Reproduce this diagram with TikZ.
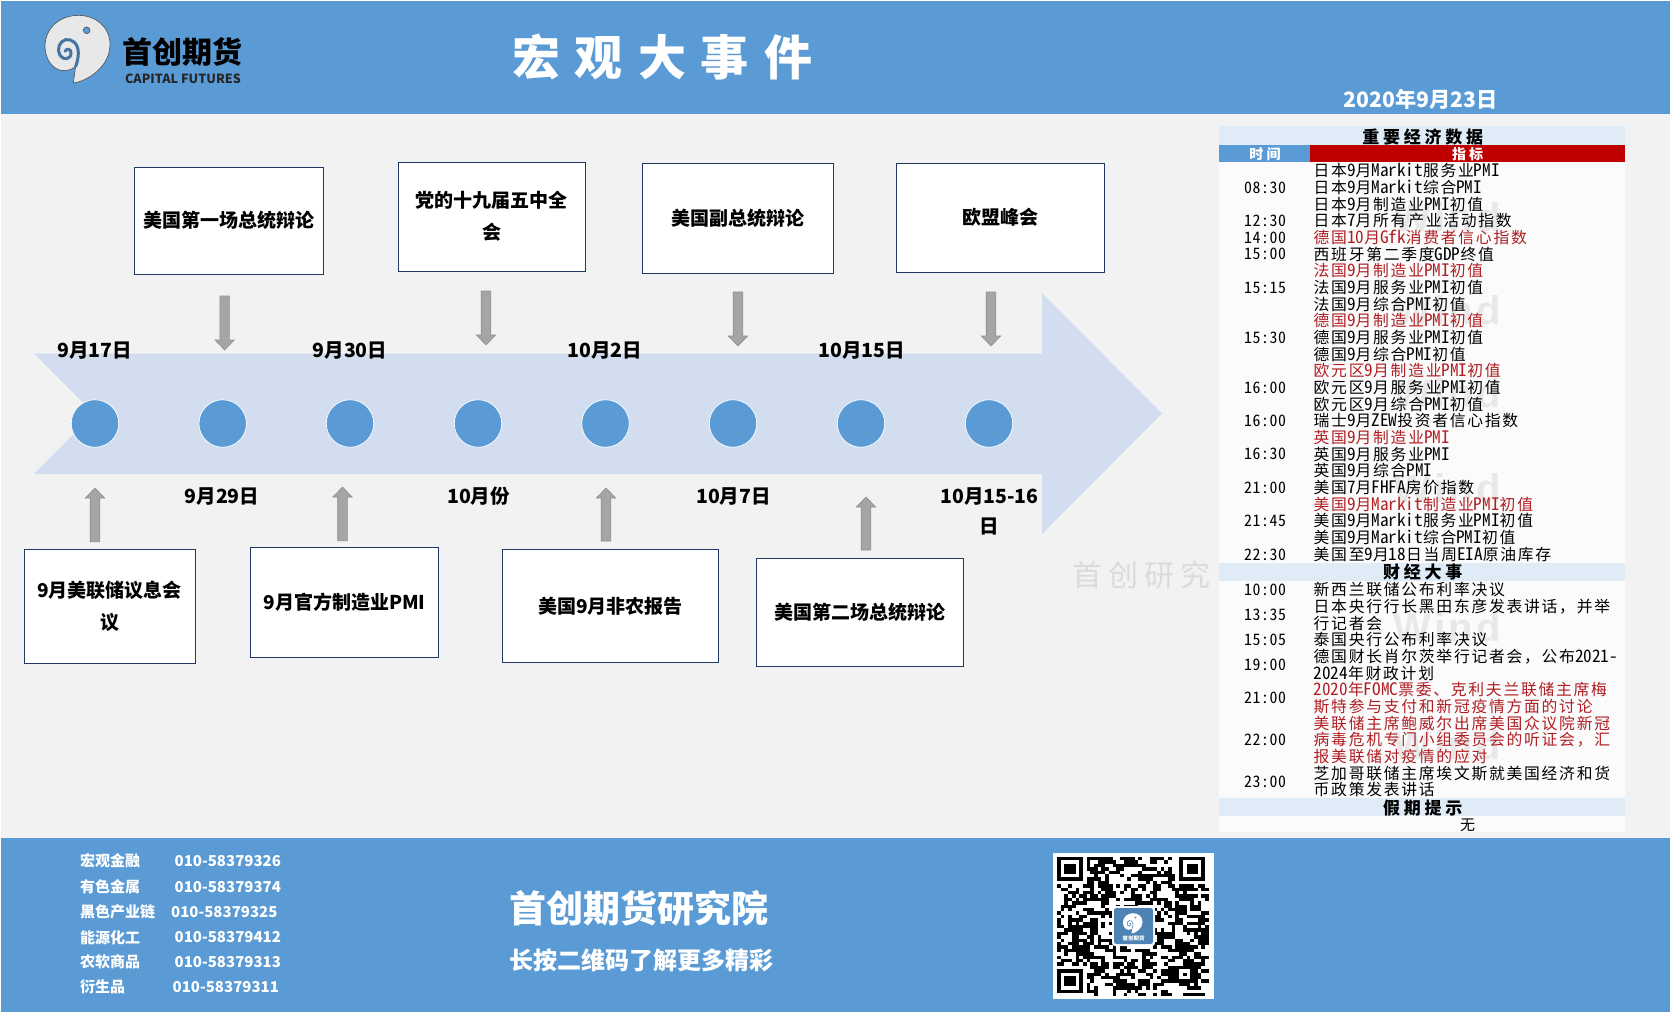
\documentclass[tikz,border=0pt]{standalone}
\usepackage{fontspec}
\usetikzlibrary{calc}
\setmainfont{Noto Sans CJK SC}
\newfontfamily\tblfont[LetterSpace=11]{Noto Sans Mono CJK SC}
\newfontfamily\ltnfont{Noto Sans Mono CJK SC}
\newfontfamily\timefont[LetterSpace=4]{Noto Sans Mono CJK SC}
\newfontfamily\secfont[LetterSpace=22]{Noto Sans CJK SC}
\newfontfamily\wmfont[LetterSpace=8]{Liberation Sans}
\newcommand\fsz[1]{\fontsize{#1}{#1}\selectfont}
\newcommand\lt[1]{{\ltnfont\fsz{17.2}#1}}
\definecolor{band}{HTML}{5B9BD5}
\definecolor{bodybg}{HTML}{F2F2F2}
\definecolor{flow}{HTML}{D2DEEF}
\definecolor{boxline}{HTML}{1F3864}
\definecolor{arrfill}{HTML}{A5A5A5}
\definecolor{arredge}{HTML}{8F8F8F}
\definecolor{secbar}{HTML}{DFEBF7}
\definecolor{rowbg}{HTML}{FBFBFB}
\definecolor{redhead}{HTML}{C00000}
\definecolor{redtext}{HTML}{B01E23}
\definecolor{wm}{HTML}{E8E8E8}
\tikzset{
  evtbox/.style={draw=boxline,line width=1pt,fill=white,align=center,inner sep=0pt,
    font=\fsz{19}\bfseries,execute at begin node={\setlength{\baselineskip}{32pt}}},
  datelab/.style={font=\fsz{19.5}\bfseries,text=black,inner sep=0pt,align=center,
    execute at begin node={\setlength{\baselineskip}{30pt}}},
  dot/.style={circle,fill=band,draw=white,line width=0.7pt,minimum size=47.5pt,inner sep=0pt},
  blockarr/.style={fill=arrfill,draw=arredge,line width=0.6pt,line join=miter},
  rowlab/.style={anchor=west,inner sep=0pt,text height=11.6pt,text depth=0pt,font=\tblfont\fsz{15.8}},
  timelab/.style={inner sep=0pt,font=\timefont\fsz{15.8}},
  seclab/.style={inner sep=0pt,font=\secfont\fsz{17}\bfseries},
  wmark/.style={inner sep=0pt,text=wm,font=\wmfont\fsz{40}\bfseries},
  foot/.style={anchor=west,inner sep=0pt,text=white,font=\fsz{15}\bfseries},
  phone/.style={anchor=west,inner sep=0pt,text=white,font=\fsz{15}\bfseries},
}
% vertical block arrow between two named coordinates; #3 = 1 points down, -1 points up
\newcommand\blockarrow[3]{%
  \draw[blockarr] ($(#1)+(-4.8,0)$) -- ($(#2)+(-4.8,-10*#3)$) -- ($(#2)+(-9.6,-10*#3)$) -- (#2)
    -- ($(#2)+(9.6,-10*#3)$) -- ($(#2)+(4.8,-10*#3)$) -- ($(#1)+(4.8,0)$) -- cycle;}
\newcommand\swirlbody{(115,225) .. controls (150,222) and (225,180) .. (225,110) .. controls (225,55) and (180,22) .. (130,22) .. controls (75,22) and (30,60) .. (30,115) .. controls (30,155) and (55,190) .. (90,188) .. controls (100,187) and (112,184) .. (122,175) -- cycle}
\newcommand\swirlline{(122,175) .. controls (126,165) and (130,150) .. (130,135) .. controls (130,105) and (110,92) .. (92,95) .. controls (72,100) and (65,125) .. (75,142) .. controls (85,158) and (108,155) .. (108,135) .. controls (108,122) and (95,120) .. (90,130)}
\begin{document}
\begin{tikzpicture}[x=1pt,y=-1pt]
\useasboundingbox (0,0) rectangle (1670,1012);
\fill[white] (0,0) rectangle (1670,1012);
\fill[bodybg] (1,114) rectangle (1670,838);
\fill[band] (1,1) rectangle (1670,114);
\fill[band] (1,837.5) rectangle (1670,1012);

% header logo
\begin{scope}[shift={(35,8)},x=0.3333pt,y=-0.3333pt]
  \fill[draw=black!65,line width=0.7pt,fill=black!9] \swirlbody;
  \draw[band!75!black,line width=3pt,line cap=round] \swirlline;
  \fill[band,draw=black!70,line width=0.6pt] (155,67) circle (10);
\end{scope}
\node[inner sep=0pt,font=\fsz{30}\bfseries,text=black] (brand) at (182,51.5) {首创期货};
\node[inner sep=0pt,font=\fsz{12.6}\bfseries,text=black!85] (brandlat) at (183,78.5) {CAPITAL FUTURES};
\node[inner sep=0pt,font=\fsz{48}\bfseries,text=white] (title) at (662,57) {宏\hspace{15pt}观\hspace{15pt}大\hspace{15pt}事\hspace{15pt}件};
\node[inner sep=0pt,font=\fsz{21.2}\bfseries,text=white] (today) at (1420.5,99) {2020年9月23日};

% timeline arrow
\fill[flow] (34,353.5) -- (1042,353.5) -- (1042,293) -- (1162,413.5) -- (1042,534) -- (1042,474) -- (34,474) -- (94,413.5) -- cycle;
\foreach \cx [count=\k] in {95,222.7,350,478,605.5,733,861,989}
  \node[dot] (d\k) at (\cx,423.5) {};

% event boxes
\node[evtbox,minimum width=189pt,minimum height=107pt] (t1) at (228.5,220.5) {美国第一场总统辩论};
\node[evtbox,minimum width=187pt,minimum height=109pt] (t2) at (491.5,216.5) {党的十九届五中全\\会};
\node[evtbox,minimum width=191pt,minimum height=110pt] (t3) at (738,218) {美国副总统辩论};
\node[evtbox,minimum width=208pt,minimum height=109pt] (t4) at (1000,217.5) {欧盟峰会};
\node[evtbox,minimum width=171pt,minimum height=114pt] (b1) at (109.5,606.5) {9月美联储议息会\\议};
\node[evtbox,minimum width=187.5pt,minimum height=110pt] (b2) at (344.5,602) {9月官方制造业PMI};
\node[evtbox,minimum width=216pt,minimum height=113pt] (b3) at (610.5,606) {美国9月非农报告};
\node[evtbox,minimum width=207pt,minimum height=108pt] (b4) at (860,612) {美国第二场总统辩论};

% block arrows
\coordinate (at1) at (224.6,296); \coordinate (ah1) at (224.6,350);
\coordinate (at2) at (486,291);   \coordinate (ah2) at (486,345);
\coordinate (at3) at (738,292);   \coordinate (ah3) at (738,346);
\coordinate (at4) at (991,292);   \coordinate (ah4) at (991,346);
\coordinate (ab1) at (95,541.7);  \coordinate (au1) at (95,488);
\coordinate (ab2) at (342.5,540.7); \coordinate (au2) at (342.5,487);
\coordinate (ab3) at (606,541);   \coordinate (au3) at (606,488);
\coordinate (ab4) at (866,550);   \coordinate (au4) at (866,497);
\blockarrow{at1}{ah1}{1}
\blockarrow{at2}{ah2}{1}
\blockarrow{at3}{ah3}{1}
\blockarrow{at4}{ah4}{1}
\blockarrow{ab1}{au1}{-1}
\blockarrow{ab2}{au2}{-1}
\blockarrow{ab3}{au3}{-1}
\blockarrow{ab4}{au4}{-1}

% dates
\node[datelab] (l1) at (94.5,350.5) {9月17日};
\node[datelab] (l2) at (222,496.5) {9月29日};
\node[datelab] (l3) at (350,350.5) {9月30日};
\node[datelab] (l4) at (478.5,496.5) {10月份};
\node[datelab] (l5) at (605,350.5) {10月2日};
\node[datelab] (l6) at (733.5,496.5) {10月7日};
\node[datelab] (l7) at (861.5,350.5) {10月15日};
\node[datelab] (l8) at (989.5,511.5) {10月15-16\\日};

% watermark beside the table
\node[inner sep=0pt,text=black!14,font=\fsz{30}] (wm0) at (1141,575) {首\hspace{6pt}创\hspace{6pt}研\hspace{6pt}究};

% table
\fill[rowbg] (1219,145) rectangle (1625,832);
\fill[secbar] (1219,126) rectangle (1625,145);
\fill[secbar] (1219,562.7) rectangle (1625,580.7);
\fill[secbar] (1219,797.7) rectangle (1625,815.7);
\fill[band] (1219,145) rectangle (1310,161.7);
\fill[redhead] (1310,145) rectangle (1625,161.7);
\foreach \wy [count=\k] in {217,310,393,488,627,745}
  \node[wmark] (wind\k) at (1447,\wy) {Wind};

\node[seclab] (s1) at (1422.7,136.7) {重要经济数据};
\node[seclab] (s2) at (1422.7,572.2) {财经大事};
\node[seclab] (s3) at (1422.7,807.7) {假期提示};
\node[inner sep=0pt,text=white,font=\secfont\fsz{14}\bfseries] (h1) at (1265,154) {时间};
\node[inner sep=0pt,text=white,font=\secfont\fsz{14}\bfseries] (h2) at (1467.7,154) {指标};
\node[inner sep=0pt,font=\tblfont\fsz{15}] (none) at (1467.7,825) {无};

\foreach \ry/\rc/\rt [count=\k] in {
171/black/日本\lt{9}月\lt{Markit}服务业\lt{PMI},
187.7/black/日本\lt{9}月\lt{Markit}综合\lt{PMI},
204.3/black/日本\lt{9}月制造业\lt{PMI}初值,
221/black/日本\lt{7}月所有产业活动指数,
237.7/redtext/德国\lt{10}月\lt{Gfk}消费者信心指数,
254.3/black/西班牙第二季度\lt{GDP}终值,
271/redtext/法国\lt{9}月制造业\lt{PMI}初值,
287.7/black/法国\lt{9}月服务业\lt{PMI}初值,
304.3/black/法国\lt{9}月综合\lt{PMI}初值,
321/redtext/德国\lt{9}月制造业\lt{PMI}初值,
337.7/black/德国\lt{9}月服务业\lt{PMI}初值,
354.3/black/德国\lt{9}月综合\lt{PMI}初值,
371/redtext/欧元区\lt{9}月制造业\lt{PMI}初值,
387.7/black/欧元区\lt{9}月服务业\lt{PMI}初值,
404.3/black/欧元区\lt{9}月综合\lt{PMI}初值,
421/black/瑞士\lt{9}月\lt{ZEW}投资者信心指数,
437.7/redtext/英国\lt{9}月制造业\lt{PMI},
454.3/black/英国\lt{9}月服务业\lt{PMI},
471/black/英国\lt{9}月综合\lt{PMI},
487.7/black/美国\lt{7}月\lt{FHFA}房价指数,
504.3/redtext/美国\lt{9}月\lt{Markit}制造业\lt{PMI}初值,
521/black/美国\lt{9}月\lt{Markit}服务业\lt{PMI}初值,
537.7/black/美国\lt{9}月\lt{Markit}综合\lt{PMI}初值,
554.4/black/美国至\lt{9}月\lt{18}日当周\lt{EIA}原油库存,
590/black/新西兰联储公布利率决议,
606.7/black/日本央行行长黑田东彦发表讲话，并举,
623.3/black/行记者会,
640/black/泰国央行公布利率决议,
656.7/black/德国财长肖尔茨举行记者会，公布\lt{2021-},
673.3/black/\lt{2024}年财政计划,
690/redtext/\lt{2020}年\lt{FOMC}票委、克利夫兰联储主席梅,
706.7/redtext/斯特参与支付和新冠疫情方面的讨论,
723.3/redtext/美联储主席鲍威尔出席美国众议院新冠,
740/redtext/病毒危机专门小组委员会的听证会，汇,
756.7/redtext/报美联储对疫情的应对,
773.3/black/芝加哥联储主席埃文斯就美国经济和货,
790/black/币政策发表讲话}
  \node[rowlab,text=\rc] (r\k) at (1313.5,\ry) {\rt};

\foreach \ty/\tt [count=\k] in {
187.7/08:30,221/12:30,237.7/14:00,254.3/15:00,287.7/15:15,337.7/15:30,387.7/16:00,421/16:00,
454.3/16:30,487.7/21:00,521/21:45,554.4/22:30,590/10:00,614.7/13:35,640/15:05,664.7/19:00,
698/21:00,740/22:00,781.7/23:00}
  \node[timelab] (tm\k) at (1265,\ty) {\tt};

% footer
\node[foot] (f1) at (80,861) {宏观金融};
\node[foot] (f2) at (80,887) {有色金属};
\node[foot] (f3) at (80,912) {黑色产业链};
\node[foot] (f4) at (80,937.5) {能源化工};
\node[foot] (f5) at (80,962) {农软商品};
\node[foot] (f6) at (80,987) {衍生品};
\node[phone] (p1) at (174.5,861) {010-58379326};
\node[phone] (p2) at (174.5,887) {010-58379374};
\node[phone] (p3) at (171,912) {010-58379325};
\node[phone] (p4) at (174.5,937.5) {010-58379412};
\node[phone] (p5) at (174.5,962) {010-58379313};
\node[phone] (p6) at (172.5,987) {010-58379311};
\node[inner sep=0pt,text=white,font=\fsz{37}\bfseries] (inst) at (638.5,908) {首创期货研究院};
\node[inner sep=0pt,text=white,font=\fsz{24}\bfseries] (hint) at (641,960) {长按二维码了解更多精彩};

% QR code
\fill[white] (1053,853) rectangle (1214,999);
\pgfmathsetseed{4242}
\gdef\qrprev{0}
\foreach \j in {0,...,40}{\foreach \i in {0,...,40}{
  \pgfmathsetmacro\qrv{rnd}
  \pgfmathtruncatemacro\qrb{\qrprev>0.5 ? (\qrv<0.62 ? 1 : 0) : (\qrv<0.40 ? 1 : 0)}
  \global\let\qrprev\qrb
  \ifnum\qrb=1 \fill[black] (1057+\i*3.7,857+\j*3.4) rectangle +(3.75,3.45);\fi
}}
\foreach \qx/\qy in {0/0,33/0,0/33}{
  \fill[white] (1057+\qx*3.7-3.7,857+\qy*3.4-3.4) rectangle +(8*3.7+3.7,8*3.4+3.4);
  \fill[black] (1057+\qx*3.7,857+\qy*3.4) rectangle +(7*3.7,7*3.4);
  \fill[white] (1057+\qx*3.7+3.7,857+\qy*3.4+3.4) rectangle +(5*3.7,5*3.4);
  \fill[black] (1057+\qx*3.7+7.4,857+\qy*3.4+6.8) rectangle +(3*3.7,3*3.4);
}
\fill[black] (1057+32*3.7,857+32*3.4) rectangle +(5*3.7,5*3.4);
\fill[white] (1057+33*3.7,857+33*3.4) rectangle +(3*3.7,3*3.4);
\fill[black] (1057+34*3.7,857+34*3.4) rectangle +(3.7,3.4);
\fill[white,rounded corners=3pt] (1112,906) rectangle (1155,946);
\fill[band!85!black,rounded corners=2.5pt] (1114,908) rectangle (1153,944);
\begin{scope}[shift={(1120,911)},x=0.1pt,y=-0.1pt]
  \fill[white] \swirlbody;
  \draw[band!85!black,line width=0.6pt] \swirlline;
  \fill[band!85!black] (155,67) circle (10);
\end{scope}
\node[inner sep=0pt,text=white,font=\fsz{5.5}\bfseries] (qrlogo) at (1133.5,938) {首创期货};
\end{tikzpicture}
\end{document}
